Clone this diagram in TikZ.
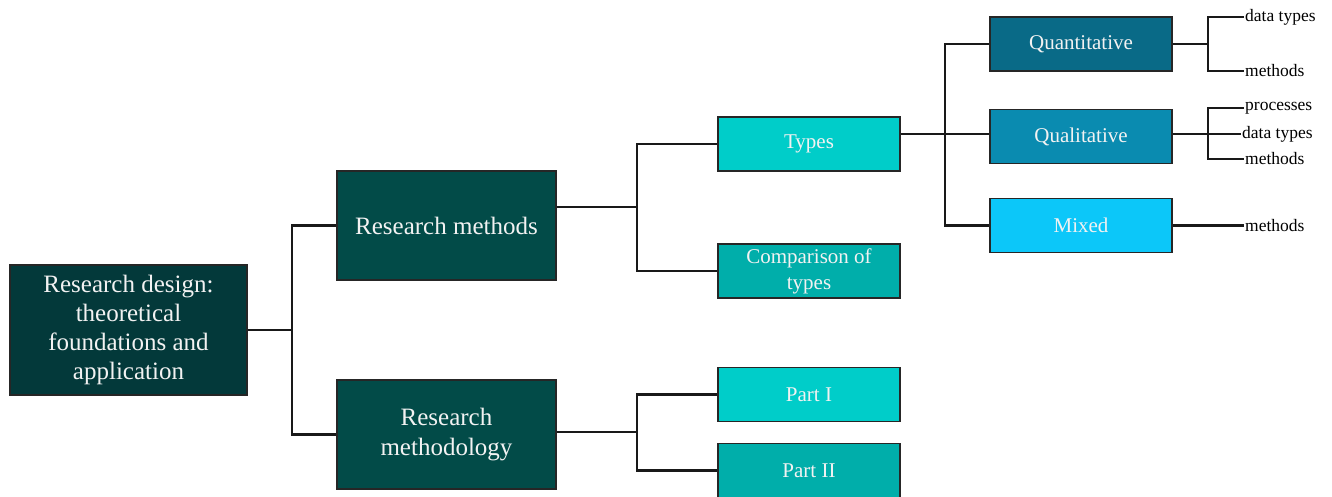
\documentclass[tikz,border=0pt]{standalone}
\usepackage{fontspec}
\setmainfont{Liberation Serif}
\definecolor{rootfill}{HTML}{03393A}
\definecolor{darkfill}{HTML}{024B48}
\definecolor{tealA}{HTML}{00CDC9}
\definecolor{tealB}{HTML}{00AEAA}
\definecolor{blueA}{HTML}{096A87}
\definecolor{blueB}{HTML}{0A8BB0}
\definecolor{blueC}{HTML}{0CC7F9}
\definecolor{boxtext}{HTML}{F2F2F2}
\tikzset{
  box/.style={draw=black!85, line width=1.3pt, text=boxtext, align=center, inner sep=2pt},
  bigbox/.style={box, minimum width=219pt, minimum height=109pt, font=\fontsize{25}{30}\selectfont},
  smallbox/.style={box, minimum width=182pt, minimum height=54pt, font=\fontsize{21}{26}\selectfont},
  leaf/.style={anchor=west, inner sep=1pt, font=\fontsize{17.5}{19}\selectfont},
  link/.style={draw=black!90, line width=2.4pt}
}
\begin{document}
\begin{tikzpicture}[x=1pt,y=-1pt]
\useasboundingbox (0,0) rectangle (1332,497);

% boxes
\node[box, fill=rootfill, minimum width=237pt, minimum height=130pt, font=\fontsize{25}{29}\selectfont] (root) at (128.5,330) {\rule{0pt}{8pt}Research design:\\theoretical\\foundations and\\application};
\node[bigbox, fill=darkfill] (rm) at (446.5,225.5) {Research methods};
\node[bigbox, fill=darkfill] (rmeth) at (446.5,434.5) {\rule{0pt}{6pt}Research\\methodology};
\node[smallbox, fill=tealA] (types) at (809,144) {Types};
\node[smallbox, fill=tealB] (comp) at (809,271) {Comparison of\\types};
\node[smallbox, fill=tealA] (p1) at (809,394.5) {Part I};
\node[smallbox, fill=tealB] (p2) at (809,470.5) {Part II};
\node[smallbox, fill=blueA] (quant) at (1081,44) {Quantitative};
\node[smallbox, fill=blueB] (qual) at (1081,136.5) {Qualitative};
\node[smallbox, fill=blueC] (mixed) at (1081,225.5) {Mixed};

% leaf labels
\node[leaf] (qn1) at (1244,17) {data types};
\node[leaf] (qn2) at (1244,71) {methods};
\node[leaf] (ql1) at (1244,108) {processes};
\node[leaf] (ql2) at (1241,134) {data types};
\node[leaf] (ql3) at (1244,159) {methods};
\node[leaf] (mx1) at (1244,225.5) {methods};

% junction points
\coordinate (j1) at (292,330);
\coordinate (j2) at (637,207);
\coordinate (j3) at (637,432);
\coordinate (j4) at (945,134);
\coordinate (j5) at (1208,44);
\coordinate (j6) at (1208,134);

% connectors
\draw[link] (root.east) -- (j1);
\draw[link] (j1) |- (rm.west);
\draw[link] (j1) |- (rmeth.west);

\draw[link] (rm.east |- j2) -- (j2);
\draw[link] (j2) |- (types.west);
\draw[link] (j2) |- (comp.west);

\draw[link] (rmeth.east |- j3) -- (j3);
\draw[link] (j3) |- (p1.west);
\draw[link] (j3) |- (p2.west);

\draw[link] (types.east |- j4) -- (j4);
\draw[link] (j4) |- (quant.west);
\draw[link] (j4) -- (qual.west |- j4);
\draw[link] (j4) |- (mixed.west);

\draw[link] (quant.east) -- (j5);
\draw[link] (j5) |- (qn1.west);
\draw[link] (j5) |- (qn2.west);

\draw[link] (qual.east |- j6) -- (j6);
\draw[link] (j6) |- (ql1.west);
\draw[link] (j6) -- (ql2.west);
\draw[link] (j6) |- (ql3.west);

\draw[link] (mixed.east) -- (mx1.west);
\end{tikzpicture}
\end{document}
